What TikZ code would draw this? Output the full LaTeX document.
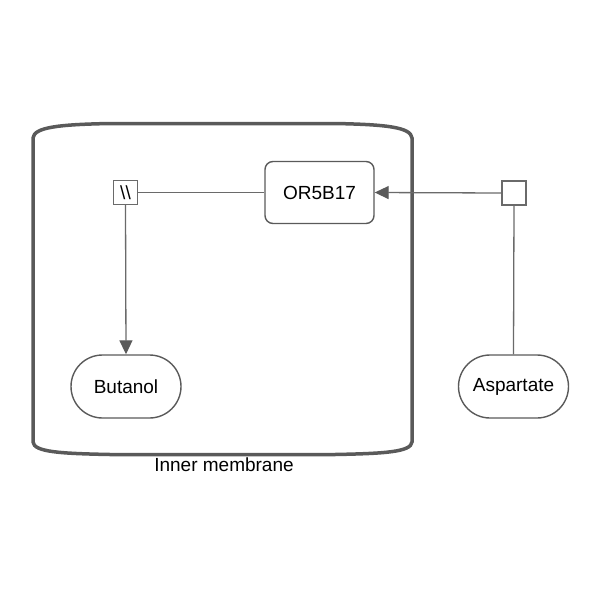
\documentclass[tikz,border=0pt]{standalone}
\usepackage{fontspec}
\setmainfont{Liberation Sans}
\usetikzlibrary{arrows.meta,shapes.misc}
\definecolor{edgegray}{HTML}{6A6A6A}
\definecolor{bordergray}{HTML}{5A5A5A}
\begin{document}
\begin{tikzpicture}[x=1pt,y=-1pt,
  lbl/.style={font=\fontsize{19}{22}\selectfont, text=black},
  epn/.style={draw=bordergray, line width=1.4pt, fill=white, lbl, inner sep=0pt},
  macro/.style={epn, rectangle, rounded corners=8pt, minimum width=109pt, minimum height=62pt},
  chem/.style={epn, rounded rectangle, minimum width=110pt, minimum height=63pt},
  procbox/.style={draw=edgegray, line width=1.3pt, fill=white, rectangle, minimum size=24pt, inner sep=0pt},
  conn/.style={draw=edgegray, line width=1.3pt},
  prod/.style={conn, -{Triangle[length=14pt,width=13pt,fill=bordergray,color=bordergray]}},
  compart/.style={draw=bordergray, line width=3.5pt}
]
\useasboundingbox (0,0) rectangle (600,600);
% compartment
\draw[compart] (33,290) -- (33,138)
  .. controls (34,127) and (60,124.5) .. (110,123.5) -- (335,123.5)
  .. controls (385,124.5) and (411,127) .. (412,138)
  -- (412,442)
  .. controls (411,452) and (385,453.5) .. (335,454.5) -- (110,454.5)
  .. controls (60,453.5) and (34,452) .. (33,442) -- cycle;
\node[lbl] (complabel) at (224,465) {Inner membrane};
% nodes
\node[macro] (or) at (319.5,192.5) {OR5B17};
\node[procbox, lbl] (om) at (125.5,192.5) {\textbackslash\textbackslash};
\node[procbox] (pr) at (514,193) {};
\node[chem] (but) at (126,386.5) {Butanol};
\node[chem] (asp) at (513.5,386.5) {Aspartate};
% connectors
\draw[conn] (om.east) -- (or.west);
\draw[prod] (om.south) -- (but.north);
\draw[conn] (asp.north) -- (pr.south);
\draw[prod] (pr.west) -- (or.east);
\end{tikzpicture}
\end{document}
